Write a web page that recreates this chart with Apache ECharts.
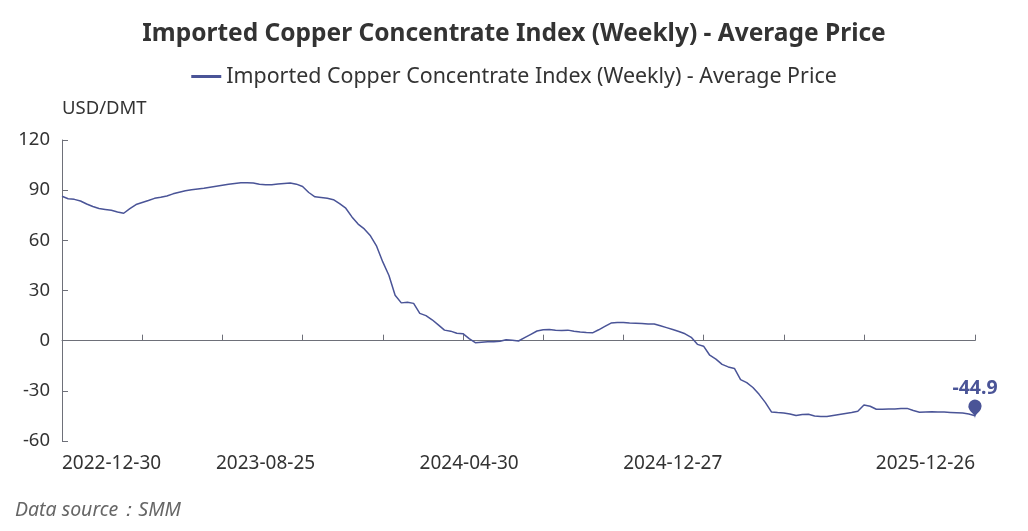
<!DOCTYPE html>
<html>
<head>
<meta charset="utf-8">
<script src="https://cdn.jsdelivr.net/npm/echarts@6/dist/echarts.min.js"></script>
<style>
html,body{margin:0;padding:0;background:#fff;}
#main{width:1028px;height:531px;}
</style>
</head>
<body>
<div id="main"></div>
<script>
var titleText = 'Imported Copper Concentrate Index (Weekly) - Average Price';
var seriesName = 'Imported Copper Concentrate Index (Weekly) - Average Price';
var unitName = 'USD/DMT';
var sourceText = 'Data source：SMM';

var dates = [
'2022-12-30',
'2023-01-06','2023-01-13','2023-01-20','2023-02-03','2023-02-10','2023-02-17','2023-02-24',
'2023-03-03','2023-03-10','2023-03-17','2023-03-24','2023-03-31','2023-04-07','2023-04-14',
'2023-04-21','2023-04-28','2023-05-05','2023-05-12','2023-05-19','2023-05-26','2023-06-02',
'2023-06-09','2023-06-16','2023-06-23','2023-06-30','2023-07-07','2023-07-14','2023-07-21',
'2023-07-28','2023-08-04','2023-08-11','2023-08-18','2023-08-25','2023-09-01','2023-09-08',
'2023-09-15','2023-09-22','2023-09-28','2023-10-13','2023-10-20','2023-10-27','2023-11-03',
'2023-11-10','2023-11-17','2023-11-24','2023-12-01','2023-12-08','2023-12-15','2023-12-22',
'2023-12-29',
'2024-01-05','2024-01-12','2024-01-19','2024-01-26','2024-02-02','2024-02-08','2024-02-23',
'2024-03-01','2024-03-08','2024-03-15','2024-03-22','2024-03-29','2024-04-03','2024-04-12',
'2024-04-19','2024-04-30','2024-05-10','2024-05-17','2024-05-24','2024-05-31','2024-06-07',
'2024-06-14','2024-06-21','2024-06-28','2024-07-05','2024-07-12','2024-07-19','2024-07-26',
'2024-08-02','2024-08-09','2024-08-16','2024-08-23','2024-08-30','2024-09-06','2024-09-13',
'2024-09-20','2024-09-27','2024-10-11','2024-10-18','2024-10-25','2024-11-01','2024-11-08',
'2024-11-15','2024-11-22','2024-11-29','2024-12-06','2024-12-13','2024-12-20','2024-12-27',
'2025-01-03','2025-01-10','2025-01-17','2025-01-24','2025-02-07','2025-02-14','2025-02-21',
'2025-02-28','2025-03-07','2025-03-14','2025-03-21','2025-03-28','2025-04-03','2025-04-11',
'2025-04-18','2025-04-25','2025-05-09','2025-05-16','2025-05-23','2025-05-30','2025-06-06',
'2025-06-13','2025-06-20','2025-06-27','2025-07-04','2025-07-11','2025-07-18','2025-07-25',
'2025-08-01','2025-08-08','2025-08-15','2025-08-22','2025-08-29','2025-09-05','2025-09-12',
'2025-09-19','2025-09-26','2025-10-10','2025-10-17','2025-10-24','2025-10-31','2025-11-07',
'2025-11-14','2025-11-21','2025-11-28','2025-12-05','2025-12-12','2025-12-19','2025-12-26'
];

var prices = [
86.4,
84.9,84.5,83.5,81.7,80.2,79.0,78.5,
78.0,77.0,76.2,79.0,81.4,82.6,83.8,
85.1,85.7,86.5,87.8,88.8,89.7,90.3,
90.7,91.1,91.7,92.3,92.9,93.5,94.0,
94.5,94.5,94.3,93.5,93.3,93.2,93.7,
94.0,94.3,93.6,92.2,88.6,86.0,85.6,
85.2,84.3,81.9,79.2,74.0,69.7,66.8,
62.7,
56.5,47.1,39.0,27.2,22.6,23.0,22.3,
16.3,15.0,12.5,9.4,6.3,5.7,4.4,
4.2,1.2,-1.2,-0.9,-0.6,-0.6,-0.4,
0.6,0.2,-0.2,1.8,3.8,5.8,6.5,
6.7,6.3,6.1,6.3,5.7,5.2,4.9,
4.7,6.5,8.5,10.5,10.8,10.9,10.5,
10.4,10.3,9.9,10.0,8.9,7.8,6.7,
5.5,4.1,2.0,-2.2,-3.3,-8.7,-11.0,
-14.2,-15.7,-16.6,-23.3,-25.1,-28.0,-32.1,
-36.9,-42.6,-43.0,-43.2,-43.8,-44.8,-44.1,
-44.0,-45.0,-45.3,-45.3,-44.7,-44.1,-43.5,
-43.0,-42.2,-38.5,-39.2,-41.0,-41.0,-40.9,
-40.8,-40.6,-40.5,-41.8,-42.8,-42.6,-42.5,
-42.6,-42.7,-42.9,-43.1,-43.3,-43.8,-44.9
];

var yTicks = [-60, -30, 0, 30, 60, 90, 120];

var lineColor = '#4a5497';
var textColor = '#333333';
var axisColor = '#6E7079';
var fontFam = '"Noto Sans", "Open Sans", sans-serif';
var lastIdx = dates.length - 1;

var chart = echarts.init(document.getElementById('main'), null, {renderer: 'canvas'});
chart.setOption({
  animation: false,
  backgroundColor: '#ffffff',
  title: {
    text: titleText,
    left: 'center',
    top: 17,
    textStyle: {fontSize: 24.5, fontWeight: 'bold', color: '#333333', fontFamily: fontFam}
  },
  legend: {
    top: 61,
    left: 'center',
    icon: 'rect',
    itemWidth: 30,
    itemHeight: 3,
    itemGap: 10,
    textStyle: {fontSize: 21.4, color: '#333333', fontFamily: fontFam},
    data: [seriesName]
  },
  grid: {left: 62, right: 53, top: 140, bottom: 90, containLabel: false},
  xAxis: [{
    type: 'category',
    data: dates,
    boundaryGap: false,
    axisLine: {show: true, onZero: true, lineStyle: {color: axisColor, width: 1}},
    axisTick: {
      show: true, inside: true, length: 6,
      interval: function (idx) { return (idx % 13 === 0 && idx <= 130) || idx === lastIdx; },
      lineStyle: {color: axisColor}
    },
    axisLabel: {show: false},
    splitLine: {show: false}
  }, {
    type: 'category',
    data: dates,
    boundaryGap: false,
    position: 'bottom',
    axisLine: {show: false, onZero: false},
    axisTick: {show: false},
    axisLabel: {
      show: true,
      margin: 13,
      fontSize: 19,
      color: textColor,
      fontFamily: fontFam,
      alignMinLabel: 'left',
      alignMaxLabel: 'right',
      interval: function (idx) { return (idx % 33 === 0 && idx <= 99) || idx === lastIdx; }
    },
    splitLine: {show: false}
  }],
  yAxis: {
    type: 'value',
    min: yTicks[0],
    max: yTicks[yTicks.length - 1],
    interval: 30,
    name: unitName,
    nameLocation: 'end',
    nameGap: 22,
    nameTextStyle: {fontSize: 18.5, color: textColor, fontFamily: fontFam, align: 'left'},
    axisLine: {show: true, lineStyle: {color: axisColor}},
    axisTick: {show: true, inside: true, length: 6, lineStyle: {color: axisColor}},
    axisLabel: {fontSize: 18.5, color: textColor, fontFamily: fontFam, margin: 12},
    splitLine: {show: false}
  },
  series: [{
    name: seriesName,
    type: 'line',
    xAxisIndex: 0,
    data: prices,
    showSymbol: false,
    symbol: 'none',
    lineStyle: {color: lineColor, width: 1.5},
    itemStyle: {color: lineColor},
    markPoint: {
      symbol: 'pin',
      symbolSize: 22,
      symbolOffset: [0, 3],
      label: {
        show: true,
        position: 'top',
        distance: 1,
        color: lineColor,
        fontSize: 19.5,
        fontWeight: 'bold',
        fontFamily: fontFam,
        formatter: function (p) { return p.value; }
      },
      itemStyle: {color: lineColor},
      data: [{coord: [lastIdx, prices[lastIdx]], value: prices[lastIdx]}]
    }
  }],
  graphic: [{
    type: 'text',
    left: 15,
    top: 500,
    style: {
      text: sourceText,
      fontSize: 19.5,
      fontStyle: 'italic',
      fill: '#666666',
      fontFamily: fontFam
    }
  }]
});
</script>
</body>
</html>
